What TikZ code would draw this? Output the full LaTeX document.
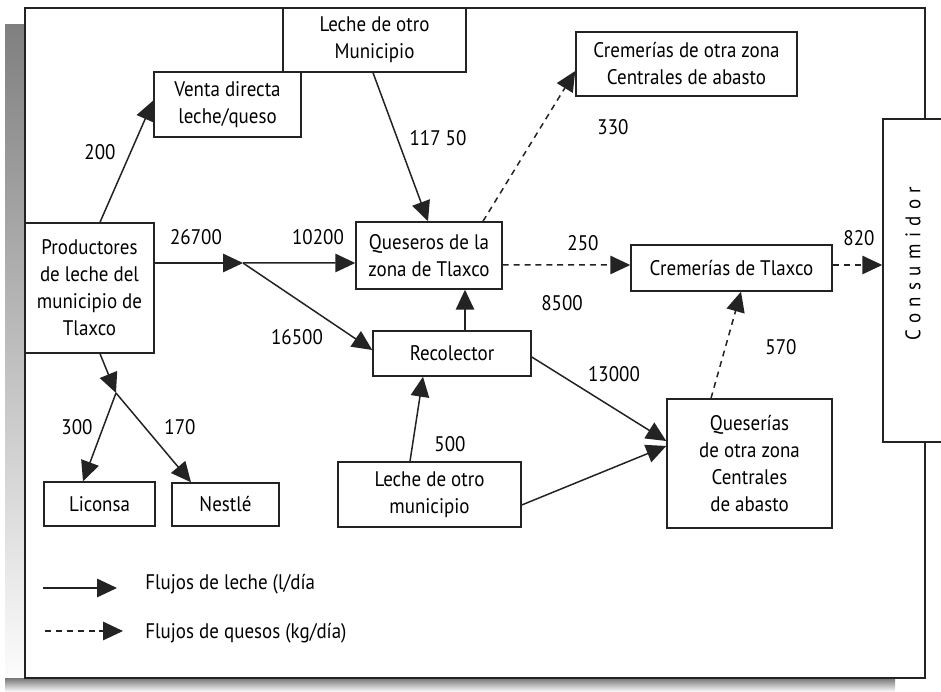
\documentclass[tikz,border=0pt]{standalone}
\usepackage{fontspec}
\setmainfont[FakeStretch=0.9]{PT Sans}
\usetikzlibrary{arrows.meta,calc}
\definecolor{shade}{RGB}{172,172,172}
\definecolor{ink}{RGB}{35,35,35}
\begin{document}
\begin{tikzpicture}[x=0.02cm,y=-0.02cm,
  txt/.style={font=\fontsize{12}{15.4}\selectfont},
  box/.style={txt,draw=ink,line width=0.85pt,fill=white,align=center,inner sep=0pt},
  sz/.style 2 args={minimum width=#1*0.02cm,minimum height=#2*0.02cm},
  flow/.style={draw=ink,line width=0.85pt,-{Triangle[length=0.4cm,width=0.37cm]}},
  cheese/.style={flow,dash pattern=on 3.4pt off 2.8pt},
  lbl/.style={txt,inner sep=0pt}]
\useasboundingbox (0,0) rectangle (941,692);
% shadow and frame
\fill[shade] (5,25) rectangle (25,692);
\fill[shade] (5,679) rectangle (895,692);
\draw[draw=ink,line width=1pt,fill=white] (25,8) rectangle (925,678);
% boxes
\node[box,sz={183}{64}] (lecheA) at (374.5,40) {Leche de otro\\Municipio};
\node[box,sz={147}{65}] (venta) at (227.5,104.5) {Venta directa\\leche/queso};
\node[box,sz={129}{130}] (prod) at (89.5,288) {Productores\\de leche del\\municipio de\\Tlaxco};
\node[box,sz={146}{67}] (queseros) at (429,255.5) {Queseros de la\\zona de Tlaxco};
\node[box,sz={221}{64}] (cremotra) at (686.5,64) {Cremerías de otra zona\\Centrales de abasto};
\node[box,sz={201}{46}] (cremtlax) at (731.5,268) {Cremerías de Tlaxco};
\node[box,sz={60}{323}] (consum) at (913,280.5) {\rotatebox{90}{\hspace{0.68cm}\addfontfeature{LetterSpace=30}Consumidor}};
\node[box,sz={158}{45}] (recol) at (452,353.5) {Recolector};
\node[box,sz={183}{65}] (lecheB) at (429.5,494.5) {Leche de otro\\municipio};
\node[box,sz={165}{129}] (queserias) at (749.5,463.5) {Queserías\\de otra zona\\Centrales\\de abasto};
\node[box,sz={111}{44}] (liconsa) at (99.5,504) {Liconsa};
\node[box,sz={107}{43}] (nestle) at (225.5,504.5) {Nestlé};
% junctions
\coordinate (j1) at (243,263);
\coordinate (j2) at (116,393);
% milk flows
\draw[flow] ($(prod.north)+(10.5,0)$) -- ($(venta.west)+(0,-4)$);
\draw[flow] ($(prod.east)+(0,-25)$) -- (j1);
\draw[flow] (j1) -- ($(queseros.west)+(0,7.5)$);
\draw[flow] (j1) -- ($(recol.west)+(0,-3.5)$);
\draw[flow] ($(lecheA.south)+(-1.5,0)$) -- ($(queseros.north)+(-1,0)$);
\draw[flow] ($(recol.north)+(13,0)$) -- ($(queseros.south)+(36,0)$);
\draw[flow] ($(recol.east)+(0,3.5)$) -- ($(queserias.west)+(0,-22.5)$);
\draw[flow] ($(lecheB.east)+(0,10.5)$) -- ($(queserias.west)+(0,-17.5)$);
\draw[flow] ($(lecheB.north)+(-19.5,0)$) -- ($(recol.south)+(-29,0)$);
\draw[flow] ($(prod.south)+(10.5,0)$) -- (j2);
\draw[flow] (j2) -- ($(liconsa.north)+(-16.5,0)$);
\draw[flow] (j2) -- ($(nestle.north)+(-34.5,0)$);
% cheese flows
\draw[cheese] ($(queseros.north)+(54,0)$) -- ($(cremotra.west)+(0,7)$);
\draw[cheese] ($(queseros.east)+(0,9.5)$) -- ($(cremtlax.west)+(0,-3)$);
\draw[cheese] ($(cremtlax.east)+(0,-3)$) -- ($(consum.west)+(0,-15.5)$);
\draw[cheese] ($(queserias.north)+(-38.5,0)$) -- ($(cremtlax.south)+(9.5,0)$);
% labels
\node[lbl] (q200) at (100,152) {200};
\node[lbl] (q26700) at (196,237) {26700};
\node[lbl] (q10200) at (318,237) {10200};
\node[lbl] (q16500) at (297,337) {16500};
\node[lbl] (q11750) at (438,138) {117 50};
\node[lbl] (q330) at (613,127) {330};
\node[lbl] (q250) at (583,243) {250};
\node[lbl] (q8500) at (562,303) {8500};
\node[lbl] (q820) at (859,238) {820};
\node[lbl] (q570) at (781,347) {570};
\node[lbl] (q13000) at (614,374) {13000};
\node[lbl] (q500) at (450,444) {500};
\node[lbl] (q300) at (77,427) {300};
\node[lbl] (q170) at (180,427) {170};
% legend
\coordinate (la) at (43,588);
\coordinate (lb) at (117,588);
\draw[flow] (la) -- (lb);
\node[lbl,anchor=west] (lt1) at (145,584) {Flujos de leche (l/día};
\coordinate (lc) at (45,631);
\coordinate (ld) at (123,631);
\draw[cheese] (lc) -- (ld);
\node[lbl,anchor=west] (lt2) at (145,633) {Flujos de quesos (kg/día)};
\end{tikzpicture}
\end{document}
